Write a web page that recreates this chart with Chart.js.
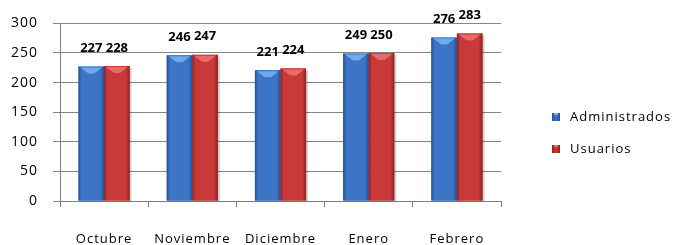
<!DOCTYPE html>
<html>
<head>
<meta charset="utf-8">
<script src="https://cdn.jsdelivr.net/npm/chart.js@4.4.1/dist/chart.umd.min.js"></script>
<style>
  html, body { margin: 0; padding: 0; background: #ffffff; }
  #wrap { width: 679px; height: 245px; position: relative; }
</style>
</head>
<body>
<div id="wrap"><canvas id="c" width="679" height="245"></canvas></div>
<script>
const categories = ['Octubre', 'Noviembre', 'Diciembre', 'Enero', 'Febrero'];
const administrados = [227, 246, 221, 249, 276];
const usuarios = [228, 247, 224, 250, 283];
const seriesNames = ['Administrados', 'Usuarios'];
const yTicks = [0, 50, 100, 150, 200, 250, 300];

const FONT = "'Open Sans', 'Liberation Sans', sans-serif";
const palette = [
  { main: '#3d74c6', dark: '#24508f', light: '#79b1f2' },
  { main: '#c8393a', dark: '#8a2324', light: '#ec7272' }
];

const spacing = {
  id: 'spacing',
  beforeDraw(chart) { chart.ctx.letterSpacing = '1px'; }
};

const barShade = {
  id: 'barShade',
  beforeDatasetsDraw(chart) {
    const ctx = chart.ctx;
    chart.data.datasets.forEach((ds, di) => {
      chart.getDatasetMeta(di).data.forEach(bar => {
        const w = bar.width, l = bar.x - w / 2;
        ctx.save();
        ctx.fillStyle = 'rgba(0,0,0,0.18)';
        ctx.fillRect(l + 2, bar.y + 2, w, bar.base - bar.y - 1);
        ctx.restore();
      });
    });
  },
  afterDatasetsDraw(chart) {
    const ctx = chart.ctx;
    chart.data.datasets.forEach((ds, di) => {
      const p = palette[di];
      chart.getDatasetMeta(di).data.forEach(bar => {
        const w = bar.width, l = bar.x - w / 2, t = bar.y, b = bar.base;
        ctx.save();
        const g = ctx.createLinearGradient(l, 0, l + w, 0);
        g.addColorStop(0, p.dark);
        g.addColorStop(0.12, p.main);
        g.addColorStop(0.5, p.main);
        g.addColorStop(0.85, p.main);
        g.addColorStop(1, p.dark);
        ctx.fillStyle = g;
        ctx.fillRect(l, t, w, b - t);
        ctx.fillStyle = p.light;
        ctx.beginPath();
        ctx.moveTo(l + 2, t + 1);
        ctx.lineTo(l + w - 2, t + 1);
        ctx.lineTo(bar.x + 3, t + 7);
        ctx.lineTo(bar.x - 3, t + 7);
        ctx.closePath();
        ctx.globalAlpha = 0.85;
        ctx.fill();
        ctx.restore();
      });
    });
  }
};

const valueLabels = {
  id: 'valueLabels',
  afterDatasetsDraw(chart) {
    const ctx = chart.ctx;
    ctx.save();
    ctx.letterSpacing = '0px';
    ctx.font = "bold 13px " + FONT;
    ctx.fillStyle = '#000';
    ctx.textAlign = 'center';
    ctx.textBaseline = 'middle';
    chart.data.datasets.forEach((ds, di) => {
      chart.getDatasetMeta(di).data.forEach((bar, i) => {
        ctx.fillText(String(ds.data[i]), bar.x, bar.y - 18);
      });
    });
    ctx.restore();
  }
};

const sideLegend = {
  id: 'sideLegend',
  afterDraw(chart) {
    const ctx = chart.ctx;
    ctx.save();
    ctx.letterSpacing = '1px';
    ctx.font = "13px " + FONT;
    ctx.textBaseline = 'middle';
    ctx.textAlign = 'left';
    chart.data.datasets.forEach((ds, di) => {
      const y = 117 + di * 32;
      const x = 552;
      const p = palette[di];
      const g = ctx.createLinearGradient(x, 0, x + 8, 0);
      g.addColorStop(0, p.dark); g.addColorStop(0.5, p.main); g.addColorStop(1, p.dark);
      ctx.fillStyle = g;
      ctx.fillRect(x, y - 4, 8, 8);
      ctx.fillStyle = p.light;
      ctx.fillRect(x + 2, y - 4, 4, 2);
      ctx.fillStyle = '#000';
      ctx.fillText(ds.label, x + 18, y);
    });
    ctx.restore();
  }
};

new Chart(document.getElementById('c'), {
  type: 'bar',
  data: {
    labels: categories,
    datasets: [
      { label: seriesNames[0], data: administrados, backgroundColor: palette[0].main },
      { label: seriesNames[1], data: usuarios, backgroundColor: palette[1].main }
    ]
  },
  options: {
    responsive: false,
    animation: false,
    devicePixelRatio: 1,
    layout: { padding: { top: 22, right: 178, left: 0, bottom: 0 } },
    datasets: { bar: { categoryPercentage: 0.58, barPercentage: 1.0 } },
    plugins: { legend: { display: false }, tooltip: { enabled: false } },
    scales: {
      x: {
        grid: { drawOnChartArea: false, drawTicks: true, tickLength: 6, offset: true, color: '#808080' },
        border: { display: true, color: '#808080', width: 1 },
        ticks: { color: '#000', font: { family: FONT, size: 13 }, padding: 24, maxRotation: 0 },
        afterFit(axis) { axis.height = 44; }
      },
      y: {
        min: 0, max: 300,
        afterBuildTicks(axis) { axis.ticks = yTicks.map(v => ({ value: v })); },
        grid: { color: '#858585', tickLength: 7, lineWidth: 1 },
        border: { display: true, color: '#808080', width: 1 },
        ticks: { color: '#000', font: { family: FONT, size: 14 }, padding: 15 },
        afterFit(axis) { axis.width = 60; }
      }
    }
  },
  plugins: [spacing, barShade, valueLabels, sideLegend]
});
</script>
</body>
</html>
